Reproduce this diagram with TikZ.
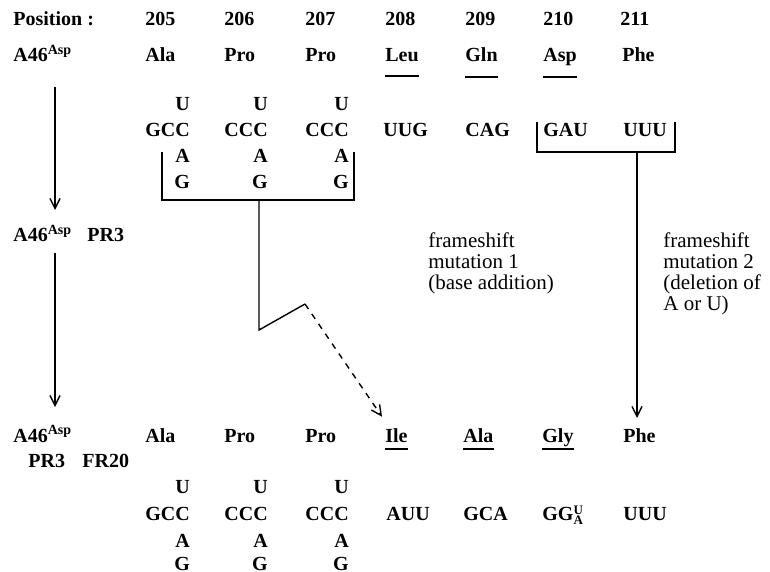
\documentclass[tikz,border=0pt]{standalone}
\usepackage{fontspec}
\setmainfont{Liberation Serif}
\usepackage{amsmath}
\usetikzlibrary{arrows.meta,positioning,calc}
\newcommand{\wobpair}[2]{\raisebox{2.6pt}{\rlap{\fontsize{6.5}{7}\selectfont #1}}\raisebox{-2pt}{\fontsize{6.5}{7}\selectfont #2}}

\begin{document}
\begin{tikzpicture}[x=0.5pt,y=-0.5pt,
    lbl/.style={anchor=base west,inner sep=0pt,font=\bfseries},
    wob/.style={anchor=base east,inner sep=0pt,font=\bfseries},
    note/.style={anchor=north west,inner sep=0pt,align=left,font=\fontsize{10.5}{10.5}\selectfont},
    link/.style={line width=0.7pt},
    arr/.style={link,-{Straight Barb[length=5pt,width=5pt]}},
    uline/.style={line width=0.6pt}]
    \useasboundingbox (0,0) rectangle (770,572);
    % Positions
    \node[lbl] (pos) at (13,26) {Position :};
    \node[lbl] (p205) at (145,26) {205};
    \node[lbl] (p206) at (224,26) {206};
    \node[lbl] (p207) at (305,26) {207};
    \node[lbl] (p208) at (385,26) {208};
    \node[lbl] (p209) at (465,26) {209};
    \node[lbl] (p210) at (543,26) {210};
    \node[lbl] (p211) at (620,26) {211};
    % Parent strain
    \node[lbl] (strA) at (13,62) {A46\textsuperscript{Asp}};
    \node[lbl] (aa1) at (145,62) {Ala};
    \node[lbl] (aa2) at (224,62) {Pro};
    \node[lbl] (aa3) at (305,62) {Pro};
    \node[lbl] (aa4) at (385,62) {Leu};
    \node[lbl] (aa5) at (465,62) {Gln};
    \node[lbl] (aa6) at (543,62) {Asp};
    \node[lbl] (aa7) at (622,62) {Phe};
    \draw[uline] (aa4.west |- 0,76) -- (aa4.east |- 0,76);
    \draw[uline] (aa5.west |- 0,77) -- (aa5.east |- 0,77);
    \draw[uline] (aa6.west |- 0,77) -- (aa6.east |- 0,77);
    % Codons
    \node[lbl] (cd1) at (145,137) {GCC};
    \node[lbl] (cd2) at (224,137) {CCC};
    \node[lbl] (cd3) at (305,137) {CCC};
    \node[lbl] (cd4) at (383,137) {UUG};
    \node[lbl] (cd5) at (465,137) {CAG};
    \node[lbl] (cd6) at (543,137) {GAU};
    \node[lbl] (cd7) at (623,137) {UUU};
    \foreach \c in {cd1,cd2,cd3}{
      \node[wob] (\c u) at (\c.base east |- 0,111) {U};
      \node[wob] (\c a) at (\c.base east |- 0,163) {A};
      \node[wob] (\c g) at (\c.base east |- 0,189) {G};
    }
    % Brackets
    \coordinate (lbrA) at (162,152);
    \coordinate (lbrB) at (354,152);
    \coordinate (lstem) at (259,200);
    \coordinate (kink) at (259,330);
    \coordinate (peak) at (305,304);
    \draw[link] (lbrA) -- (lbrA |- lstem) -- (lbrB |- lstem) -- (lbrB);
    \draw[link] (lstem) -- (kink) -- (peak);
    \coordinate (rbrA) at (537,122);
    \coordinate (rbrB) at (675,122);
    \coordinate (rstem) at (637,152);
    \draw[link] (rbrA) -- (rbrA |- rstem) -- (rbrB |- rstem) -- (rbrB);
    % Intermediate strain
    \node[lbl] (strB) at (13,242) {A46\textsuperscript{Asp}};
    \node[lbl] (prB) at (87,242) {PR3};
    \node[note] (fs1) at (428,232) {frameshift\\mutation 1\\(base addition)};
    \node[note] (fs2) at (663,232) {frameshift\\mutation 2\\(deletion of\\A or U)};
    % Revertant
    \node[lbl] (strC) at (13,442) {A46\textsuperscript{Asp}};
    \node[lbl] (prC) at (28,467) {PR3};
    \node[lbl] (frC) at (82,467) {FR20};
    \node[lbl] (ab1) at (145,442) {Ala};
    \node[lbl] (ab2) at (224,442) {Pro};
    \node[lbl] (ab3) at (305,442) {Pro};
    \node[lbl] (ab4) at (385,442) {Ile};
    \node[lbl] (ab5) at (463,442) {Ala};
    \node[lbl] (ab6) at (542,442) {Gly};
    \node[lbl] (ab7) at (623,442) {Phe};
    \draw[uline] (ab4.west |- 0,449) -- (ab4.east |- 0,449);
    \draw[uline] (ab5.west |- 0,449) -- (ab5.east |- 0,449);
    \draw[uline] (ab6.west |- 0,449) -- (ab6.east |- 0,449);
    \node[lbl] (ce1) at (145,520) {GCC};
    \node[lbl] (ce2) at (224,520) {CCC};
    \node[lbl] (ce3) at (305,520) {CCC};
    \node[lbl] (ce4) at (386,520) {AUU};
    \node[lbl] (ce5) at (463,520) {GCA};
    \node[lbl] (ce6) at (542,520) {GG\wobpair{U}{A}};
    \node[lbl] (ce7) at (623,520) {UUU};
    \foreach \c in {ce1,ce2,ce3}{
      \node[wob] (\c u) at (\c.base east |- 0,493) {U};
      \node[wob] (\c a) at (\c.base east |- 0,547) {A};
      \node[wob] (\c g) at (\c.base east |- 0,570) {G};
    }
    % Arrows
    \coordinate (lane) at (55,0);
    \draw[arr] (lane |- 0,87) -- (lane |- 0,210);
    \draw[arr] (lane |- 0,253) -- (lane |- 0,407);
    \draw[arr,dashed] (peak) -- ([shift={(-3,-11)}]ab4.north west);
    \draw[arr] (rstem) -- (rstem |- 0,418);
\end{tikzpicture}
\end{document}
